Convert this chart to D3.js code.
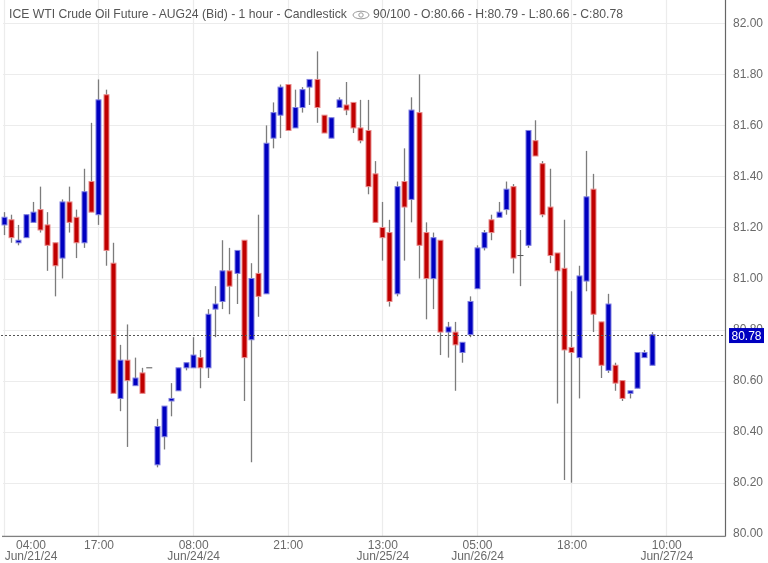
<!DOCTYPE html>
<html><head><meta charset="utf-8">
<script src="https://cdn.jsdelivr.net/npm/d3@7/dist/d3.min.js"></script>
<style>html,body{margin:0;padding:0;background:#fff;overflow:hidden}svg{display:block;font-family:"Liberation Sans",Arial,sans-serif;filter:blur(0.35px)}</style>
</head><body><svg id="c" width="768" height="563"></svg>
<script>
const opens=[81.21,81.23,81.14,81.16,81.22,81.27,81.21,81.14,81.08,81.30,81.24,81.14,81.38,81.25,81.72,81.06,80.53,80.68,80.58,80.63,80.65,80.27,80.38,80.52,80.56,80.65,80.65,80.69,80.65,80.88,80.91,81.03,81.02,81.15,80.76,81.02,80.94,81.55,81.64,81.76,81.59,81.67,81.75,81.78,81.64,81.55,81.67,81.68,81.69,81.59,81.58,81.41,81.20,81.18,80.94,81.38,81.31,81.65,81.18,81.00,81.15,80.79,80.79,80.71,80.78,80.96,81.12,81.23,81.24,81.27,81.36,81.09,81.13,81.54,81.45,81.28,81.10,81.04,80.73,80.69,80.99,81.35,80.83,80.64,80.66,80.60,80.55,80.57,80.69,80.66];
const highs=[81.26,81.25,81.21,81.25,81.30,81.36,81.26,81.14,81.31,81.36,81.27,81.43,81.61,81.78,81.74,81.14,80.74,80.82,80.69,80.65,80.65,80.45,80.50,80.59,80.65,80.67,80.77,80.72,80.88,80.97,81.15,81.12,81.11,81.15,81.06,81.25,81.60,81.69,81.76,81.76,81.74,81.75,81.78,81.89,81.64,81.63,81.71,81.77,81.69,81.70,81.70,81.46,81.30,81.23,81.38,81.51,81.71,81.80,81.22,81.18,81.15,80.83,80.83,80.75,80.93,81.13,81.19,81.25,81.30,81.38,81.37,81.19,81.58,81.62,81.46,81.43,81.10,81.23,80.95,81.05,81.50,81.41,80.83,80.94,80.67,80.60,80.56,80.71,80.72,80.79];
const lows=[81.17,81.14,81.13,81.16,81.22,81.18,81.03,80.93,81.00,81.18,81.08,81.12,81.26,81.21,81.05,80.55,80.48,80.34,80.58,80.55,80.65,80.26,80.33,80.46,80.56,80.64,80.65,80.57,80.61,80.77,80.88,80.86,80.90,80.52,80.28,80.85,80.94,81.51,81.55,81.58,81.59,81.65,81.68,81.61,81.57,81.55,81.67,81.64,81.57,81.53,81.33,81.22,81.07,80.89,80.93,81.07,81.22,81.00,80.84,80.88,80.70,80.69,80.56,80.67,80.77,80.96,81.11,81.15,81.24,81.25,81.02,80.97,81.12,81.48,81.24,81.06,80.51,80.21,80.20,80.53,80.95,80.79,80.61,80.63,80.56,80.52,80.53,80.57,80.69,80.66];
const closes=[81.24,81.16,81.15,81.25,81.26,81.19,81.13,81.05,81.30,81.22,81.14,81.34,81.26,81.70,81.11,80.55,80.68,80.60,80.61,80.55,80.65,80.42,80.50,80.53,80.65,80.67,80.70,80.65,80.86,80.90,81.03,80.97,81.11,80.69,81.00,80.93,81.53,81.65,81.75,81.58,81.67,81.74,81.78,81.67,81.57,81.63,81.70,81.66,81.59,81.54,81.36,81.22,81.16,80.91,81.36,81.28,81.66,81.13,81.00,81.16,80.79,80.81,80.74,80.75,80.91,81.12,81.18,81.18,81.26,81.35,81.08,81.09,81.58,81.48,81.25,81.09,81.03,80.72,80.71,81.01,81.32,80.86,80.66,80.90,80.59,80.53,80.56,80.71,80.71,80.78];
const priceTicks=[80.00,80.20,80.40,80.60,80.80,81.00,81.20,81.40,81.60,81.80,82.00];
const timeTickIndex=[0,13,26,39,52,65,78,91];
const timeLabels=["04:00","17:00","08:00","21:00","13:00","05:00","18:00","10:00"];
const dateLabels=["Jun/21/24","","Jun/24/24","","Jun/25/24","Jun/26/24","","Jun/27/24"];
const lastPrice=80.78;
const titleLeft="ICE WTI Crude Oil Future - AUG24 (Bid) - 1 hour - Candlestick";
const titleRight="90/100 - O:80.66 - H:80.79 - L:80.66 - C:80.78";

const svg=d3.select("#c");
const x=d3.scaleLinear().domain([0,89]).range([3.7,651.5]);
const y=d3.scaleLinear().domain([80,82]).range([533.7,23.3]);
const plotR=725.5, plotB=536.5;
const grid="#ececec", textC="#6a6a6a";

const g=svg.append("g");
g.selectAll(".hg").data(priceTicks.slice(1)).join("line")
 .attr("x1",3).attr("x2",plotR).attr("y1",d=>Math.round(y(d))+.5).attr("y2",d=>Math.round(y(d))+.5)
 .attr("stroke",grid).attr("stroke-width",1.2);
g.selectAll(".vg").data(timeTickIndex).join("line")
 .attr("x1",d=>Math.round(x(d))+.5).attr("x2",d=>Math.round(x(d))+.5).attr("y1",0).attr("y2",plotB)
 .attr("stroke",grid).attr("stroke-width",1.2);

const n=d3.range(opens.length);
g.selectAll(".wick").data(n).join("line")
 .attr("x1",i=>Math.round(x(i))+.5).attr("x2",i=>Math.round(x(i))+.5)
 .attr("y1",i=>y(highs[i])).attr("y2",i=>y(lows[i]))
 .attr("stroke","#7c7c7c").attr("stroke-width",1.3);
g.selectAll(".body").data(n).join("rect")
 .attr("x",i=>Math.round(x(i))-2)
 .attr("width",5)
 .attr("y",i=>y(Math.max(opens[i],closes[i])))
 .attr("height",i=>Math.abs(y(opens[i])-y(closes[i])))
 .attr("fill",i=>closes[i]>=opens[i]?"#0000c0":"#c00000")
 .attr("stroke",i=>closes[i]>=opens[i]?"#7f7fe0":"#e88c8c")
 .attr("stroke-width",i=>opens[i]===closes[i]?0:1);
g.selectAll(".doji").data(n.filter(i=>opens[i]===closes[i])).join("line")
 .attr("x1",i=>x(i)-3).attr("x2",i=>x(i)+3).attr("y1",i=>y(opens[i])).attr("y2",i=>y(opens[i]))
 .attr("stroke","#555").attr("stroke-width",1);

// frame
svg.append("line").attr("x1",plotR).attr("x2",plotR).attr("y1",0).attr("y2",plotB).attr("stroke","#666").attr("stroke-width",1.2);
svg.append("line").attr("x1",2).attr("x2",plotR).attr("y1",plotB).attr("y2",plotB).attr("stroke","#808080").attr("stroke-width",1.3);

// last price line
svg.append("line").attr("x1",1).attr("x2",plotR).attr("y1",Math.round(y(lastPrice))+.5).attr("y2",Math.round(y(lastPrice))+.5)
 .attr("stroke","#555").attr("stroke-dasharray","2,2");

// y labels
const ax=d3.axisRight(y).tickValues(priceTicks).tickFormat(d3.format(".2f")).tickSize(0).tickPadding(0);
const axG=svg.append("g").attr("transform","translate(733,-0.6)").call(ax);
axG.select(".domain").remove();
axG.selectAll("text").attr("font-size",12).attr("fill",textC).attr("font-family",'"Liberation Sans",Arial,sans-serif');
svg.append("rect").attr("x",0).attr("y",plotB+.7).attr("width",768).attr("height",30).attr("fill","#fff");
// price tag
svg.append("rect").attr("x",729).attr("y",y(lastPrice)-6.6).attr("width",35).attr("height",15).attr("fill","#0000c0");
svg.append("text").attr("x",746.5).attr("y",y(lastPrice)+5).attr("text-anchor","middle").attr("font-size",12).attr("fill","#fff").text(lastPrice.toFixed(2));

// x labels
const xa=svg.append("g");
xa.selectAll(".t").data(timeTickIndex).join("text").attr("x",d=>x(d)+(d===0?27.3:0.7)).attr("y",548.5).attr("text-anchor","middle")
 .attr("font-size",12).attr("fill",textC).text((d,i)=>timeLabels[i]);
xa.selectAll(".d").data(timeTickIndex).join("text").attr("x",d=>x(d)+(d===0?27.3:0.7)).attr("y",559.5).attr("text-anchor","middle")
 .attr("font-size",12).attr("fill",textC).text((d,i)=>dateLabels[i]);

// title
svg.append("text").attr("x",9).attr("y",17.7).attr("font-size",12.2).attr("fill","#555").text(titleLeft);
svg.append("text").attr("x",373).attr("y",17.7).attr("font-size",12.2).attr("fill","#555").text(titleRight);
const eye=svg.append("g").attr("transform","translate(361,15)").attr("fill","none").attr("stroke","#999");
eye.append("ellipse").attr("rx",8).attr("ry",3.8);
eye.append("circle").attr("r",2.2);
</script></body></html>
